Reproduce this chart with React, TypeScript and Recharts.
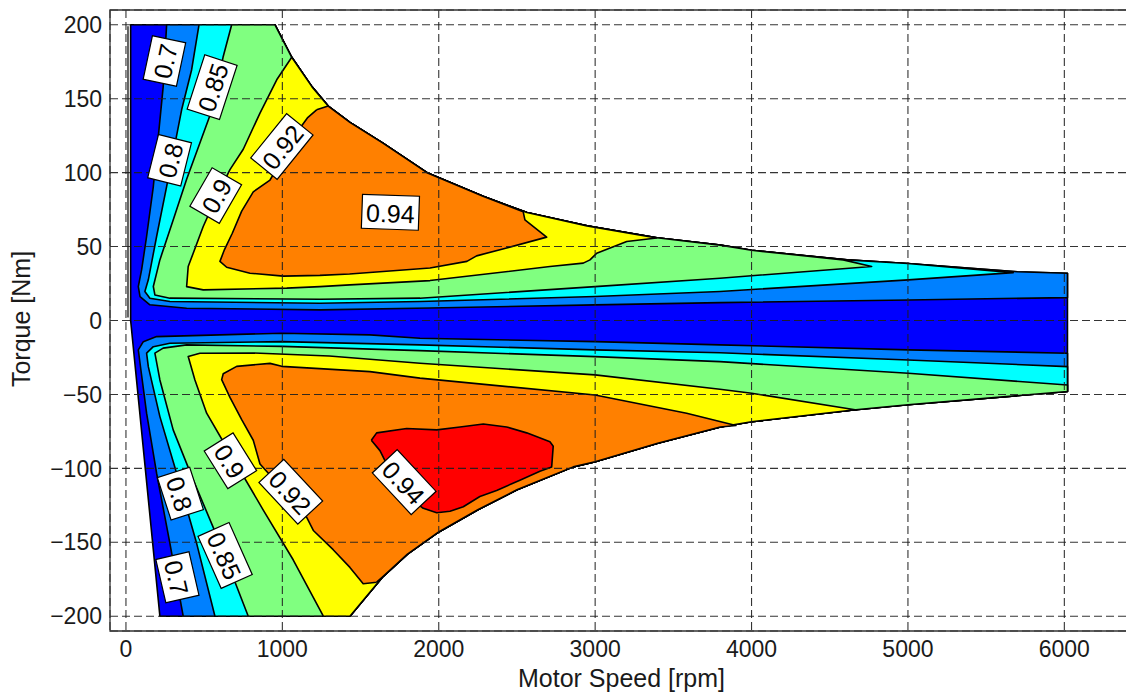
import { ScatterChart, Scatter, XAxis, YAxis, CartesianGrid, ReferenceArea, Label } from 'recharts';

type Pt = [number, number];

const FONT = '"Liberation Sans", Arial, Helvetica, sans-serif';

const speedTicks = [0, 1000, 2000, 3000, 4000, 5000, 6000];
const torqueTicks = [-200, -150, -100, -50, 0, 50, 100, 150, 200];

// operating envelope [rpm, Nm]
const upperEnvelope: Pt[] = [
  [30, 200], [953, 200], [1060, 178], [1190, 158], [1293, 145], [1432, 134], [1643, 120],
  [1925, 100], [2283, 84], [2564, 73], [2948, 64], [3395, 56], [3800, 51], [4000, 47.5],
  [4610, 41], [5000, 38.5], [5700, 33], [6020, 32],
];
const lowerEnvelope: Pt[] = [
  [217, -200], [1432, -200], [1645, -173], [1800, -158], [2000, -143], [2250, -128],
  [2500, -114.5], [2860, -99], [3000, -95.5], [3400, -83], [3800, -72], [4000, -68.5],
  [4650, -60.5], [5000, -57], [6020, -48],
];
const leftEdge: Pt[] = [[13, 199], [13, 2]];

// contour lines, motoring side (eff level boundaries)
const c70Upper: Pt[] = [
  [260, 200], [238, 158], [207, 124.5], [175, 90.6], [132, 56.8], [100, 34.2], [79, 22.9],
  [90, 16.2], [153, 10.6], [388, 8.3], [1240, 7.2], [1944, 8.5], [2999, 10.6], [3798, 12.1],
  [5002, 13.9], [6020, 15.5],
];
const c80Upper: Pt[] = [
  [467, 200], [420, 169.6], [356, 142.5], [260, 90.6], [196, 56.8], [143, 27.5], [121, 19.6],
  [153, 15.1], [281, 12.8], [1240, 11.7], [1880, 12.8], [2999, 16.2], [3798, 19.6],
  [5002, 27.5], [5673, 32.4],
];
const c85Upper: Pt[] = [
  [676, 200], [622, 178.6], [558, 144.8], [388, 95.5], [302, 68], [217, 41], [175, 23],
  [185, 17.3], [281, 15.1], [1240, 14.4], [1880, 15.1], [2999, 22.9], [3798, 28.6],
  [4768, 36.5], [4586, 41],
];
const c90Upper: Pt[] = [
  [1060, 178], [964, 162.8], [857, 140.3], [750, 115.8], [665, 102], [580, 84], [494, 63.6],
  [430, 45.5], [398, 36.5], [388, 22.9], [494, 20.7], [1028, 21.9], [1240, 22.9], [1432, 24.1],
  [1944, 27], [2711, 36.5], [2924, 38.8], [2967, 41], [3010, 45.5], [3202, 53.4], [3393, 55.8],
];
const c92Upper: Pt[] = [
  [1219, 142.5], [1160, 137], [1091, 127], [1006, 110], [921, 95], [814, 87], [740, 74],
  [680, 59], [630, 48], [601, 40], [644, 36], [793, 32], [1006, 30], [1240, 30.5], [1430, 31.5],
  [1944, 35.5], [2180, 40], [2242, 43.7], [2434, 49], [2690, 56.4], [2551, 68], [2540, 73.5],
];

// contour lines, generating side
const c70Lower: Pt[] = [
  [366, -200], [281, -150.7], [196, -103.3], [132, -62.7], [90, -28.9], [79, -19.9],
  [111, -14.3], [196, -10.9], [996, -8.6], [1560, -9.7], [1880, -12], [2999, -14.3],
  [3798, -16.5], [5002, -19.9], [6020, -22.1],
];
const c80Lower: Pt[] = [
  [569, -200], [452, -150.7], [324, -103.3], [217, -65], [143, -31.2], [132, -22.1],
  [175, -17.7], [281, -15.4], [996, -14.3], [1880, -16.5], [2999, -19.9], [3798, -21.8],
  [5002, -26.7], [6020, -31.2],
];
const c85Lower: Pt[] = [
  [782, -200], [601, -150.7], [430, -107.8], [302, -74], [217, -40.2], [185, -22.1],
  [238, -18.7], [388, -16.5], [996, -17.5], [1880, -20.4], [2999, -24.4], [3798, -27.8],
  [5002, -35.7], [6020, -43.6],
];
const c90Lower: Pt[] = [
  [1262, -200], [1070, -162], [878, -128.2], [665, -89.8], [516, -62.7], [441, -40.2],
  [398, -24.4], [473, -22.1], [814, -22], [1300, -24], [1880, -28.9], [2999, -36.8],
  [3798, -46.5], [4001, -49.2], [4672, -60.5],
];
const c92Lower: Pt[] = [
  [1603, -177], [1517, -178], [1432, -167], [1325, -155], [1198, -142], [1155, -133],
  [1006, -119], [985, -112], [857, -97], [814, -81], [740, -67], [665, -52], [612, -40],
  [622, -36], [708, -31], [921, -29], [996, -31], [1560, -34.6], [1880, -39], [2999, -50.4],
  [3585, -62.7], [3900, -71],
];
const c94Island: Pt[] = [
  [1569, -81], [1603, -76], [1795, -73], [1987, -74], [2136, -72], [2285, -70], [2434, -72],
  [2562, -76], [2711, -82], [2732, -85], [2722, -99], [2647, -102], [2519, -108], [2370, -115],
  [2263, -119], [2157, -126], [2072, -129], [1987, -130], [1901, -127], [1752, -115], [1624, -88],
];

const contourLabels = [
  { x: 246, y: 175.5, text: '0.7', angle: -78 },
  { x: 551, y: 157.8, text: '0.85', angle: -72 },
  { x: 279, y: 108.4, text: '0.8', angle: -76 },
  { x: 574, y: 84.5, text: '0.9', angle: -60 },
  { x: 997, y: 117.7, text: '0.92', angle: -51 },
  { x: 1691, y: 73.2, text: '0.94', angle: 2 },
  { x: 668, y: -94.9, text: '0.9', angle: 58 },
  { x: 1054, y: -115.8, text: '0.92', angle: 47 },
  { x: 348, y: -117.1, text: '0.8', angle: 72 },
  { x: 634, y: -158.9, text: '0.85', angle: 66 },
  { x: 329, y: -173.7, text: '0.7', angle: 77 },
  { x: 1779, y: -109.3, text: '0.94', angle: 47 },
];

// close a contour line back along the envelope
function closeUpper(line: Pt[]): Pt[] {
  const x0 = line[0][0];
  const x1 = line[line.length - 1][0];
  const back = upperEnvelope.filter(p => p[0] > x0 && p[0] <= x1).reverse();
  return [...line, ...back, line[0]];
}
function closeLower(line: Pt[]): Pt[] {
  const x0 = line[0][0];
  const x1 = line[line.length - 1][0];
  const back = lowerEnvelope.filter(p => p[0] > x0 && p[0] <= x1).reverse();
  return [...line, ...back, line[0]];
}

const domainPoly: Pt[] = [[30, 0], ...upperEnvelope, ...[...lowerEnvelope].reverse(), [30, 0]];

const regions = [
  { id: 'base', color: '#0000ff', pts: domainPoly },
  { id: '70u', color: '#0080ff', pts: closeUpper(c70Upper) },
  { id: '70l', color: '#0080ff', pts: closeLower(c70Lower) },
  { id: '80u', color: '#00ffff', pts: closeUpper(c80Upper) },
  { id: '80l', color: '#00ffff', pts: closeLower(c80Lower) },
  { id: '85u', color: '#80ff80', pts: closeUpper(c85Upper) },
  { id: '85l', color: '#80ff80', pts: closeLower(c85Lower) },
  { id: '90u', color: '#ffff00', pts: closeUpper(c90Upper) },
  { id: '90l', color: '#ffff00', pts: closeLower(c90Lower) },
  { id: '92u', color: '#ff8000', pts: closeUpper(c92Upper) },
  { id: '92l', color: '#ff8000', pts: closeLower(c92Lower) },
  { id: '94', color: '#ff0000', pts: [...c94Island, c94Island[0]] },
];

const toXY = (pts: Pt[]) => pts.map(([x, y]) => ({ x, y }));
const noDot = () => <g />;
const minus = (v: number) => String(v).replace('-', '\u2212');

function LabelBox(props: any) {
  const { cx, cy, payload } = props;
  if (cx == null || cy == null) return <g />;
  const w = payload.text.length * 12.5 + 7;
  const h = 34;
  return (
    <g transform={`translate(${cx},${cy}) rotate(${payload.angle})`}>
      <rect x={-w / 2} y={-h / 2} width={w} height={h} fill="#fff" stroke="#000" strokeWidth={1.2} />
      <text x={0} y={1} textAnchor="middle" dominantBaseline="central" fontSize={25} fontFamily={FONT} fill="#000">
        {payload.text}
      </text>
    </g>
  );
}

export default function App() {
  return (
    <div style={{ width: 1126, height: 690 }}>
      <ScatterChart width={1126} height={690} margin={{ top: 2, right: 1, bottom: 0, left: 0 }}>
        <XAxis type="number" dataKey="x" domain={[-102, 6439]} allowDataOverflow ticks={speedTicks}
          tickLine={false} axisLine={false} tickSize={6} tickMargin={4} height={67}
          tick={{ fill: '#1a1a1a', fontSize: 23, fontFamily: FONT }} tickFormatter={minus}>
          <Label value="Motor Speed [rpm]" position="insideBottom" offset={11}
            style={{ fontSize: 25, fontFamily: FONT, fill: '#1a1a1a' }} />
        </XAxis>
        <YAxis type="number" dataKey="y" domain={[-210, 210]} allowDataOverflow ticks={torqueTicks}
          tickLine={false} axisLine={false} tickSize={6} tickMargin={2} width={102}
          tick={{ fill: '#1a1a1a', fontSize: 23, fontFamily: FONT }} tickFormatter={minus}>
          <Label content={() => (
            <text x={22} y={311} transform="rotate(-90 22 311)" textAnchor="middle"
              fontSize={25} fontFamily={FONT} fill="#1a1a1a">Torque [Nm]</text>
          )} />
        </YAxis>

        {/* filled efficiency levels, drawn low to high */}
        {regions.map(r => (
          <Scatter key={r.id} data={toXY(r.pts)} lineType="joint" shape={noDot}
            line={{ fill: r.color, stroke: '#000', strokeWidth: 1.6, strokeLinejoin: 'round' }}
            legendType="none" isAnimationActive={false} />
        ))}
        <Scatter data={toXY(leftEdge)} lineType="joint" shape={noDot}
          line={{ fill: 'none', stroke: '#222', strokeWidth: 1.4 }} legendType="none" isAnimationActive={false} />

        <CartesianGrid stroke="#1e1e1e" strokeOpacity={0.9} strokeWidth={1.1} strokeDasharray="8 4" zIndex={650} />

        <Scatter data={contourLabels} shape={(p: any) => <LabelBox {...p} />}
          legendType="none" isAnimationActive={false} zIndex={700} />

        <ReferenceArea x1={-102} x2={6439} y1={-210} y2={210} fill="none" stroke="#333" strokeWidth={1.3}
          ifOverflow="visible" zIndex={710} />
      </ScatterChart>
    </div>
  );
}
